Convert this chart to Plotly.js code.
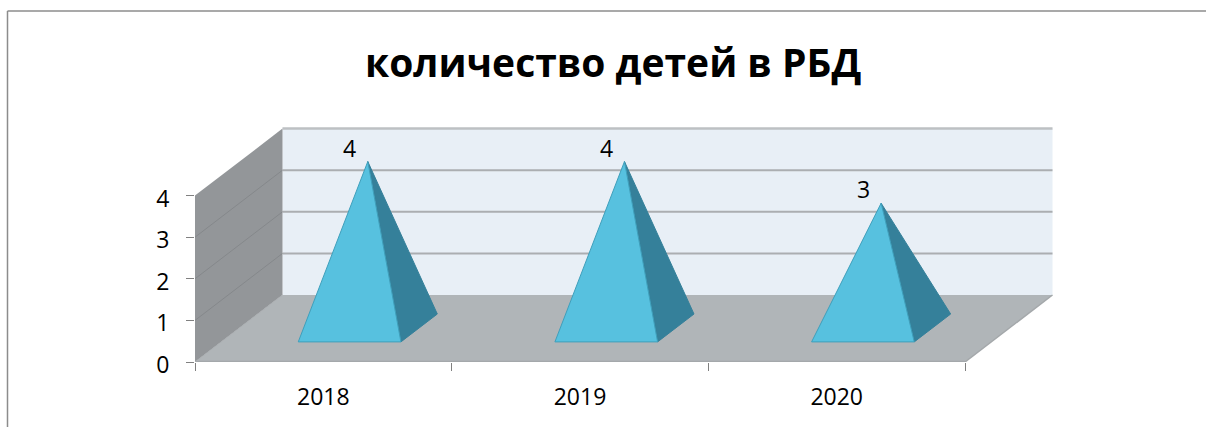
<!DOCTYPE html>
<html>
<head>
<meta charset="utf-8">
<script src="https://cdn.plot.ly/plotly-3.0.1.min.js"></script>
<style>html,body{margin:0;padding:0;background:#fff;overflow:hidden}</style>
</head>
<body>
<div id="chart" style="width:1206px;height:427px"></div>
<script>
// Data
const titleText = 'количество детей в РБД';
const categories = ['2018', '2019', '2020'];
const values = [4, 4, 3];
const yTicks = [0, 1, 2, 3, 4];

// Pseudo-3D projection (in axis units)
const catPx = 256.67, unitPx = 41.6;
const depthX = 87.5 / catPx, depthY = 67 / unitPx;
const wallTop = 4, baseHalf = 0.2, depthNear = 0.3, depthFar = 0.716, depthMid = 0.508;
const n = categories.length;
const px = (c, d) => c + d * depthX;
const py = (v, d) => v + d * depthY;

const poly = (pts, fill, line, lw) => ({
  type: 'scatter', mode: line ? 'lines' : 'none', fill: 'toself', fillcolor: fill,
  x: pts.map(p => px(p[0], p[2])), y: pts.map(p => py(p[1], p[2])),
  line: {color: line || fill, width: lw || 0}, hoverinfo: 'skip', showlegend: false
});
const seg = (a, b, color, w) => ({
  type: 'scatter', mode: 'lines',
  x: [px(a[0], a[2]), px(b[0], b[2])], y: [py(a[1], a[2]), py(b[1], b[2])],
  line: {color, width: w}, hoverinfo: 'skip', showlegend: false
});
const close = pts => pts.concat([pts[0]]);

const traces = [];
// back wall
traces.push(poly(close([[0,0,1],[n,0,1],[n,wallTop,1],[0,wallTop,1]]), '#E8EFF6'));
// left wall
traces.push(poly(close([[0,0,0],[0,0,1],[0,wallTop,1],[0,wallTop,0]]), '#939699'));
// floor
traces.push(poly(close([[0,0,0],[n,0,0],[n,0,1],[0,0,1]]), '#B0B5B8'));
// grid lines
yTicks.slice(1).forEach(v => {
  traces.push(seg([0,v,1],[n,v,1], v === wallTop ? '#BDC0C3' : '#ABAEB1', v === wallTop ? 2.5 : 2));
  if (v < wallTop) traces.push(seg([0,v,0],[0,v,1], '#85888B', 1));
});
traces.push(seg([0,0,0],[n,0,0], '#A4A8AB', 2.5));
traces.push(seg([n,0,0],[n,0,1], '#A4A8AB', 1.5));
traces.push(seg([0,0,0],[0,0,1], '#A9ADB0', 1));

// pyramids
values.forEach((v, i) => {
  const cx = i + 0.5;
  const apex = [cx, v, depthMid];
  const fl = [cx - baseHalf, 0, depthNear], fr = [cx + baseHalf, 0, depthNear], br = [cx + baseHalf, 0, depthFar];
  traces.push(poly(close([fr, br, apex]), '#35809A', '#35809A', 1));
  traces.push(poly(close([fl, fr, apex]), '#57C1DF', '#3F9FBB', 1));
});

const annotations = values.map((v, i) => ({
  xref: 'x', yref: 'y', x: px(i + 0.5, depthMid), y: py(v, depthMid),
  text: String(v), showarrow: false, xshift: -18, yshift: 14,
  xanchor: 'center', yanchor: 'middle',
  font: {family: 'Open Sans', size: 23, color: '#000'}
}));
annotations.push({
  xref: 'paper', yref: 'paper', xanchor: 'center', yanchor: 'middle',
  x: (613 - 195) / (1060 - 195), y: (362 - 62) / (362 - 120),
  text: '<b>' + titleText + '</b>', showarrow: false,
  font: {family: 'Open Sans', size: 39, color: '#000'}
});

const layout = {
  width: 1206, height: 427, autosize: false, showlegend: false,
  paper_bgcolor: '#fff', plot_bgcolor: 'rgba(0,0,0,0)',
  margin: {l: 195, r: 146, t: 120, b: 65, pad: 0},
  xaxis: {
    range: [0, (1060 - 195) / catPx], showgrid: false, zeroline: false, showline: false,
    tickmode: 'array', tickvals: categories.map((c, i) => i + 0.5), ticktext: categories,
    ticks: '', ticklabelstandoff: 19,
    tickfont: {family: 'Open Sans', size: 23, color: '#000'},
    minor: {tick0: 0, dtick: 1, ticks: 'outside', ticklen: 8, tickwidth: 1, tickcolor: '#808080', showgrid: false}
  },
  yaxis: {
    range: [0, 242 / unitPx], showgrid: false, zeroline: false, showline: false,
    tickmode: 'array', tickvals: yTicks, ticktext: yTicks.map(String),
    ticks: 'outside', ticklen: 8, tickwidth: 1, tickcolor: '#808080', ticklabelstandoff: 12, ticklabelshift: 3,
    tickfont: {family: 'Open Sans', size: 23, color: '#000'}
  },
  shapes: [
    {type: 'line', xref: 'paper', yref: 'paper', x0: (7.5 - 195) / 865, x1: (1206 - 195) / 865, y0: (362 - 11) / 242, y1: (362 - 11) / 242, line: {color: '#8C8C8C', width: 1.5}},
    {type: 'line', xref: 'paper', yref: 'paper', x0: (7.5 - 195) / 865, x1: (7.5 - 195) / 865, y0: (362 - 11) / 242, y1: (362 - 427) / 242, line: {color: '#8C8C8C', width: 1.5}}
  ],
  annotations
};
Plotly.newPlot('chart', traces, layout, {displayModeBar: false, staticPlot: true});
</script>
</body>
</html>
